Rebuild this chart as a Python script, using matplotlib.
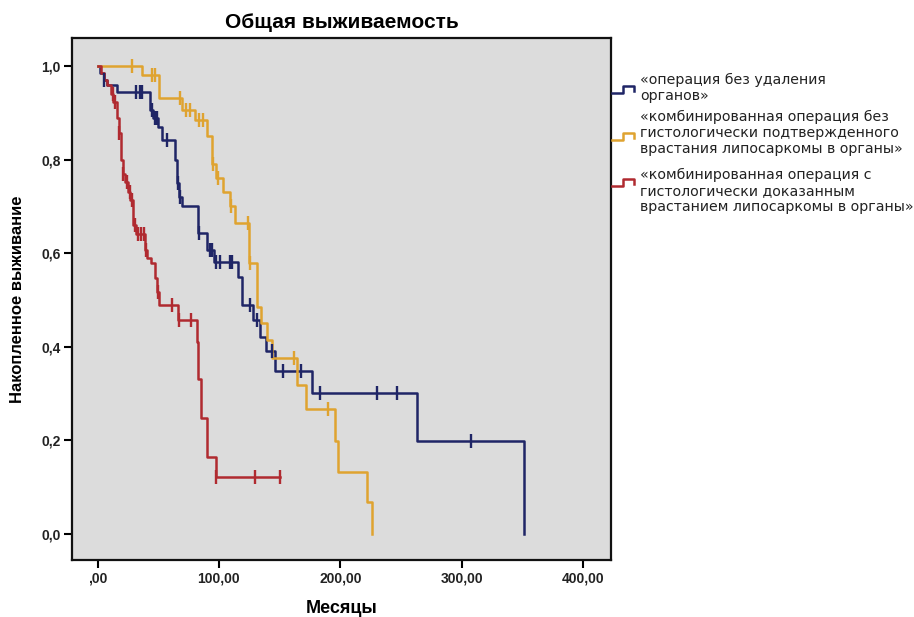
import numpy as np
import matplotlib.pyplot as plt
from matplotlib.lines import Line2D

plt.rcParams['font.family'] = ['Liberation Sans', 'DejaVu Sans']

# Кривые Каплана-Мейера: моменты событий (мес.) и накопленная выживаемость после них
t_bez = [0, 2, 5, 8, 16, 43, 46, 50, 53, 64, 65.5, 67, 70, 82.5, 90, 96,
         115.5, 119, 128, 133.6, 139, 146, 177, 263, 351]
s_bez = [1.0, 0.985, 0.97, 0.96, 0.945, 0.906, 0.89, 0.87, 0.842, 0.80, 0.75,
         0.72, 0.70, 0.643, 0.607, 0.581, 0.55, 0.49, 0.457, 0.42, 0.39,
         0.348, 0.30, 0.199, 0.0]
c_bez = [5, 32, 35, 37, 44.5, 47, 48.6, 57, 66, 67.6, 84, 93, 94.5, 98,
         100.6, 109, 111, 125.4, 131, 143.5, 152.6, 168, 183, 230, 246.6, 307.6]

t_nepodtv = [0, 36.3, 51, 70, 80, 90, 94, 97.3, 103, 109, 113, 125, 131, 135,
             140, 144, 164, 172, 195.5, 198, 222, 226]
s_nepodtv = [1.0, 0.98, 0.931, 0.906, 0.885, 0.85, 0.79, 0.76, 0.73, 0.70,
             0.665, 0.58, 0.485, 0.45, 0.415, 0.375, 0.318, 0.267, 0.199,
             0.133, 0.068, 0.0]
c_nepodtv = [28, 44.5, 47, 67.6, 72.6, 76, 84, 87, 95, 99.5, 110, 124, 126,
             161.6, 190]

t_dokaz = [0, 2.5, 5, 8, 11.5, 13, 15.7, 17.3, 19.5, 20.6, 23, 25.5, 27, 29,
           32, 39.5, 41, 43.7, 47, 48.7, 51, 66, 81.6, 83, 85, 90, 97.5, 150.5]
s_dokaz = [1.0, 0.985, 0.97, 0.96, 0.94, 0.923, 0.89, 0.857, 0.80, 0.77,
           0.752, 0.73, 0.714, 0.66, 0.64, 0.607, 0.59, 0.58, 0.547, 0.517,
           0.49, 0.457, 0.41, 0.33, 0.248, 0.165, 0.122, 0.122]
c_dokaz = [12.4, 14, 18, 21, 24, 26.5, 28, 30.5, 33.5, 36, 38, 40, 49.5, 61,
           67.5, 77, 98, 130, 150.5]

labels = ['«операция без удаления\nорганов»',
          '«комбинированная операция без\nгистологически подтвержденного\nврастания липосаркомы в органы»',
          '«комбинированная операция с\nгистологически доказанным\nврастанием липосаркомы в органы»']
colors = ['#1f2566', '#dfa330', '#b02a30']

x_ticks = [0, 100, 200, 300, 400]
x_ticklabels = [',00', '100,00', '200,00', '300,00', '400,00']
y_ticks = [0.0, 0.2, 0.4, 0.6, 0.8, 1.0]
y_ticklabels = ['0,0', '0,2', '0,4', '0,6', '0,8', '1,0']

fig = plt.figure(figsize=(9.14, 6.17), dpi=100)
ax = fig.add_axes([0.0788, 0.0924, 0.5897, 0.846])
ax.set_facecolor('#dcdcdc')

groups = [(t_bez, s_bez, c_bez), (t_nepodtv, s_nepodtv, c_nepodtv),
          (t_dokaz, s_dokaz, c_dokaz)]
for (t, s, c), col in zip(groups, colors):
    t = np.array(t)
    s = np.array(s)
    ax.step(t, s, where='post', color=col, lw=1.8, zorder=3)
    idx = np.searchsorted(t, c, side='right') - 1
    ax.plot(c, s[idx], ls='none', marker='|', ms=10, mew=1.7, color=col, zorder=4)

ax.set_xlim(-21, 423)
ax.set_ylim(-0.056, 1.06)
ax.set_xticks(x_ticks)
ax.set_xticklabels(x_ticklabels)
ax.set_yticks(y_ticks)
ax.set_yticklabels(y_ticklabels)
ax.tick_params(direction='out', length=6, width=1.5, labelsize=10, pad=2)
for lab in ax.get_xticklabels() + ax.get_yticklabels():
    lab.set_fontweight('bold')
    lab.set_color('#222222')
for sp in ax.spines.values():
    sp.set_linewidth(1.6)
    sp.set_color('#111111')

ax.set_title('Общая выживаемость', fontsize=15, fontweight='bold', pad=7)
ax.set_xlabel('Месяцы', fontsize=13, fontweight='bold', labelpad=11)
ax.set_ylabel('Накопленное выживание', fontsize=12, fontweight='bold', labelpad=12)

# легенда справа от поля графика: значок-ступенька и подпись
W, H = 914, 617
legend_rows = [(90, 73), (137, 110), (183, 168)]
for (hy, ty), col, lab in zip(legend_rows, colors, labels):
    gx = np.array([612, 623, 623, 634, 634]) / W
    gy = 1 - np.array([hy + 3, hy + 3, hy - 4, hy - 4, hy + 1]) / H
    fig.add_artist(Line2D(gx, gy, color=col, lw=1.8))
    fig.text(640 / W, 1 - ty / H, lab, fontsize=10.2, va='top', ha='left',
             family='DejaVu Sans', color='#222222', linespacing=1.2)

fig.savefig('out.png', dpi=100)
